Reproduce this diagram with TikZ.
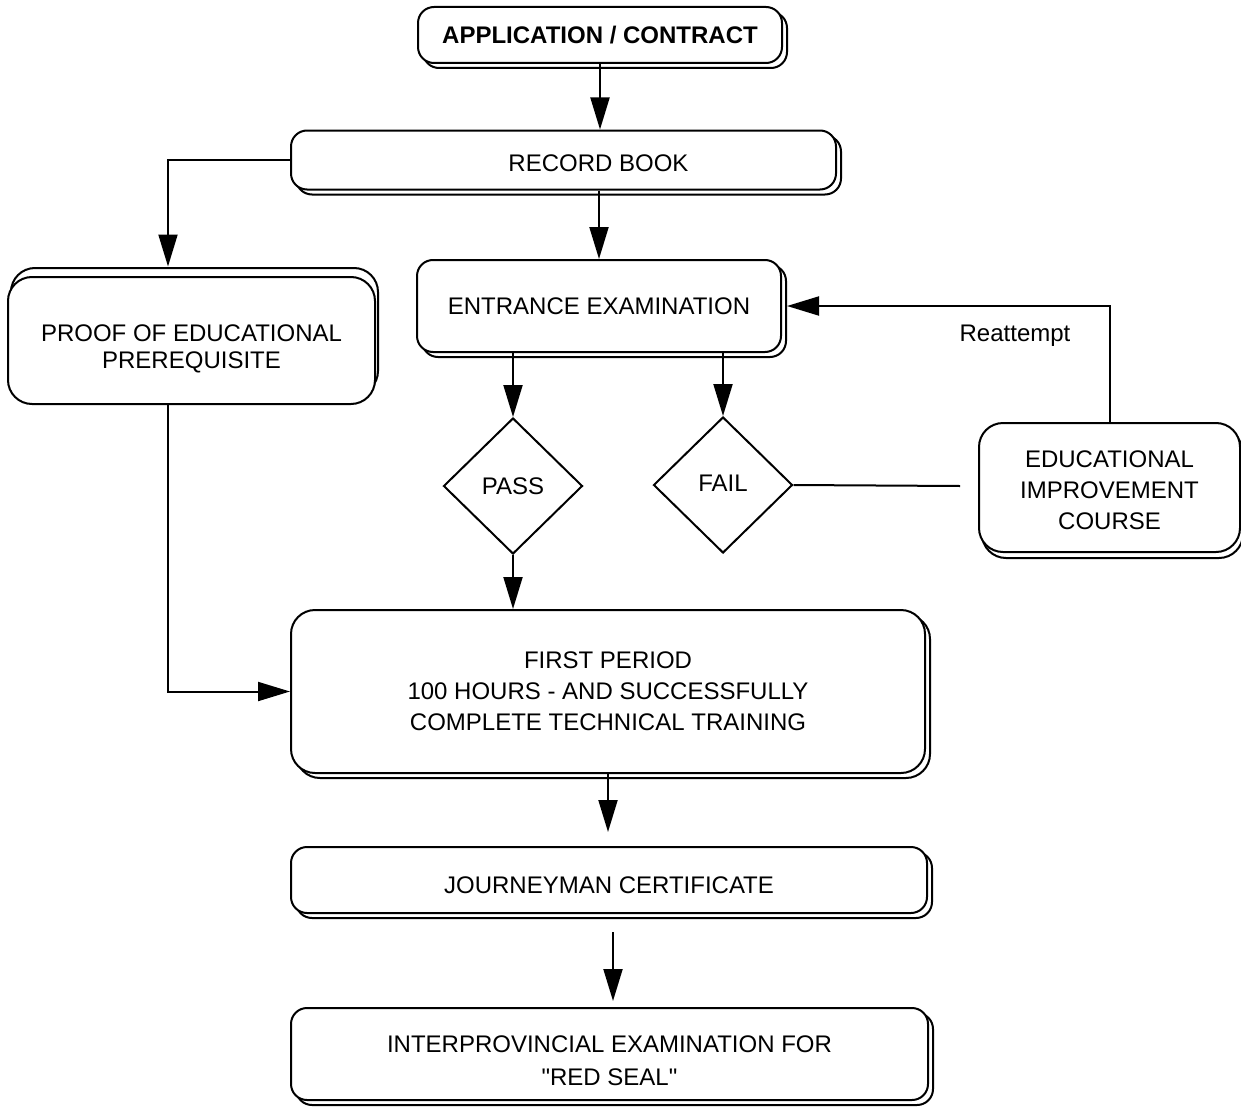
\documentclass[tikz,border=0pt]{standalone}
\usepackage{fontspec}
\setmainfont{Liberation Sans}
\usepackage{tikz}
\usetikzlibrary{arrows.meta,calc,shapes.geometric,shadows}
\usetikzlibrary{positioning}

% move a line of text down without changing its box
\newcommand\lowered[2]{\raisebox{-#1}[\height][\depth]{#2}}

\begin{document}
\begin{tikzpicture} [
    x=0.5pt, y=-0.5pt,
    font=\fontsize{12}{15.5}\selectfont,
    stage/.style={rectangle, draw=black, fill=white, line width=1pt, rounded corners=8pt,
                  align=center, inner sep=0pt,
                  copy shadow={shadow xshift=2.5pt, shadow yshift=-2.5pt, #1}},
    stage/.default={},
    bigstage/.style={stage={#1}, rounded corners=12pt},
    bigstage/.default={},
    test/.style={diamond, draw=black, line width=1pt, align=center, inner sep=0pt,
                 minimum width=69.5pt, minimum height=68pt},
    >={Triangle[length=16pt,width=9.5pt]},
    link/.style={line width=1pt}
    ]
    \useasboundingbox (0,0) rectangle (1241,1113);

    %Nodes
    \node[stage, minimum width=182pt, minimum height=28pt, font=\fontsize{12}{15.5}\selectfont\bfseries]
        (app) at (600,35) {APPLICATION / CONTRACT};
    \node[stage, minimum width=272.5pt, minimum height=29.5pt]
        (rec) at (563.5,160) {\hspace*{35pt}\lowered{1.5pt}{RECORD BOOK}};
    \node[stage, minimum width=182pt, minimum height=46pt]
        (ent) at (599,306) {ENTRANCE EXAMINATION};
    \node[bigstage={shadow xshift=1.5pt, shadow yshift=4.5pt}, minimum width=183.5pt, minimum height=63.5pt,
          font=\fontsize{12}{13.5}\selectfont]
        (proof) at (191.5,340.5) {\lowered{4pt}{PROOF OF EDUCATIONAL}\\\lowered{4pt}{PREREQUISITE}};
    \node[test]      (pass)  at (513,486) {PASS};
    \node[test]      (fail)  at (723,485) {\lowered{-1pt}{FAIL}};
    \coordinate      (failend) at (960,486);
    \node[bigstage={shadow xshift=1.5pt, shadow yshift=-3pt}, minimum width=130.5pt, minimum height=64.5pt]
        (edu) at (1109.5,487.5) {\lowered{1.5pt}{EDUCATIONAL}\\\lowered{1.5pt}{IMPROVEMENT}\\\lowered{1.5pt}{COURSE}};
    \node            (reat)  at (1015,336) {Reattempt};
    \node[bigstage, minimum width=317pt, minimum height=81.5pt]
        (first) at (608,691.5) {FIRST PERIOD\\100 HOURS - AND SUCCESSFULLY\\ COMPLETE TECHNICAL TRAINING};
    \node[stage, minimum width=318pt, minimum height=33pt]
        (journ) at (609,880) {\lowered{2.5pt}{JOURNEYMAN CERTIFICATE}};
    \node[stage, minimum width=318.5pt, minimum height=46pt, font=\fontsize{12}{16.5}\selectfont]
        (inter) at (609.5,1054) {\lowered{3.5pt}{INTERPROVINCIAL EXAMINATION FOR}\\\lowered{3.5pt}{\textquotedbl RED SEAL\textquotedbl}};

    %Lines
    \draw[link,->] (app.south) -- (app.south |- rec.north);
    \draw[link,->] (rec.west) -| ([xshift=-11.75pt,yshift=4.75pt]proof.north);
    \draw[link,->] (ent.north |- rec.south) -- (ent.north);
    \draw[link,->] (pass.north |- ent.south) -- (pass.north);
    \draw[link,->] (fail.north |- ent.south) -- (fail.north);
    \draw[link,->] (pass.south) -- (pass.south |- first.north);
    \draw[link]    (fail.east) -- (failend);
    \draw[link,->] (edu.north) |- ([xshift=2.5pt]ent.east);
    \draw[link,->] ([xshift=-11.75pt]proof.south) |- (first.west);
    \draw[link,->,shorten >=7pt] (first.south) -- (first.south |- journ.north);
    \draw[link,->,shorten <=9pt,shorten >=3pt] ([xshift=2pt]journ.south) -- ([xshift=2pt]journ.south |- inter.north);

\end{tikzpicture}
\end{document}
